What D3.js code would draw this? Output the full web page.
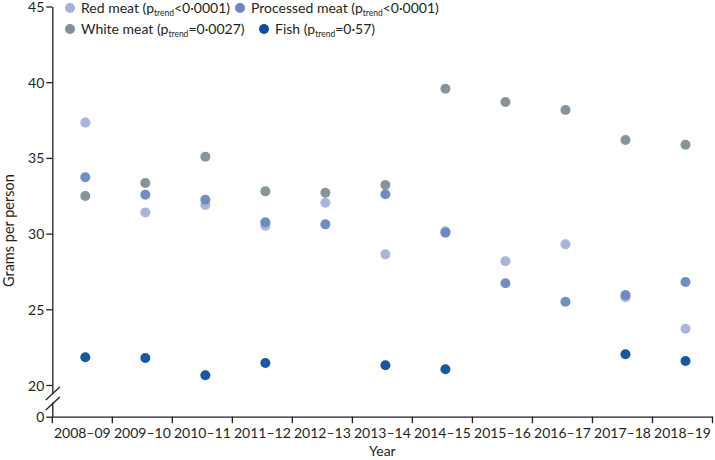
<!DOCTYPE html>
<html>
<head>
<meta charset="utf-8">
<script src="https://cdn.jsdelivr.net/npm/d3@7"></script>
<style>
  body { margin: 0; background: #fff; }
  svg text { font-family: Lato, "Open Sans", sans-serif; fill: #231f20; }
</style>
</head>
<body>
<div id="container" style="width:715px;height:460px"></div>
<script>
'use strict';

var years = ['2008–09', '2009–10', '2010–11', '2011–12', '2012–13', '2013–14', '2014–15', '2015–16', '2016–17', '2017–18', '2018–19'];
var redMeat = [37.33, 31.4, 31.89, 30.52, 32.04, 28.63, 30.15, 28.17, 29.29, 25.79, 23.72];
var processedMeat = [33.72, 32.57, 32.24, 30.75, 30.61, 32.6, 30.06, 26.72, 25.5, 25.94, 26.8];
var whiteMeat = [32.48, 33.34, 35.08, 32.79, 32.7, 33.21, 39.57, 38.69, 38.16, 36.18, 35.87];
var fish = [21.83, 21.78, 20.64, 21.45, null, 21.3, 21.04, null, null, 22.03, 21.59];
var yTicks = [0, 20, 25, 30, 35, 40, 45];

var series = [
  {name: 'Red meat', p: '<0·0001', values: redMeat, color: '#a3b1db'},
  {name: 'Processed meat', p: '<0·0001', values: processedMeat, color: '#6a86c3'},
  {name: 'White meat', p: '=0·0027', values: whiteMeat, color: '#808f96'},
  {name: 'Fish', p: '=0·57', values: fish, color: '#0a4f9f'}
];

var chart = {};
chart.margin = {top: 6.5, right: 2.5, bottom: 43.3, left: 52.3};
chart.width = 715 - chart.margin.left - chart.margin.right;
chart.height = 460 - chart.margin.top - chart.margin.bottom;

var svg = d3.select('#container').append('svg')
  .attr('width', 715)
  .attr('height', 460);

var g = svg.append('g')
  .attr('transform', 'translate(' + chart.margin.left + ',' + chart.margin.top + ')');

var x = d3.scaleBand()
  .domain(years)
  .range([0, chart.width]);

// broken axis: 0 sits just below the 20-45 segment
var y = d3.scaleLinear()
  .domain([0, 20, 45])
  .range([chart.height, chart.height - 31.7, 0]);

/* ------- AXES -------*/
var yAxis = g.append('g')
  .attr('class', 'y axis')
  .call(d3.axisLeft(y).tickValues(yTicks).tickSize(6).tickSizeOuter(0).tickFormat(d3.format('d')));

var xAxis = g.append('g')
  .attr('class', 'x axis')
  .attr('transform', 'translate(0,' + chart.height + ')')
  .call(d3.axisBottom(x).tickSize(0).tickSizeOuter(0).tickPadding(11));

g.selectAll('.axis path, .axis line').attr('stroke', '#231f20').attr('stroke-width', 1.3);
g.selectAll('.axis text').style('font-size', '14px').style('fill', '#231f20');
yAxis.selectAll('text').attr('x', -8).attr('dy', '0.36em');

// x ticks on category boundaries
xAxis.selectAll('line.boundary')
  .data(years.concat(['end']))
  .enter()
  .append('line')
  .attr('class', 'boundary')
  .attr('x1', function(d, i) { return i * x.step(); })
  .attr('x2', function(d, i) { return i * x.step(); })
  .attr('y1', 0)
  .attr('y2', 6.5)
  .attr('stroke', '#231f20')
  .attr('stroke-width', 1.3);

// axis break marks
var breakTop = y(20) + 8;
var breakBottom = y(0) - 14;
g.append('rect')
  .attr('x', -3)
  .attr('y', breakTop)
  .attr('width', 6)
  .attr('height', breakBottom - breakTop)
  .attr('fill', '#fff');
[0, 10].forEach(function(off) {
  g.append('line')
    .attr('x1', -6.5).attr('y1', breakTop + 7 + off)
    .attr('x2', 7.5).attr('y2', breakTop - 6 + off)
    .attr('stroke', '#231f20')
    .attr('stroke-width', 1.3);
});

/* ------- AXIS TITLES -------*/
svg.append('text')
  .attr('transform', 'translate(14,' + (chart.margin.top + y(30.2)) + ') rotate(-90)')
  .attr('text-anchor', 'middle')
  .style('font-size', '14.5px')
  .text('Grams per person');

svg.append('text')
  .attr('x', chart.margin.left + chart.width / 2)
  .attr('y', 456)
  .attr('text-anchor', 'middle')
  .style('font-size', '14px')
  .text('Year');

/* ------- POINTS -------*/
series.forEach(function(s) {
  g.append('g')
    .selectAll('circle')
    .data(s.values.map(function(v, i) { return {year: years[i], value: v}; })
      .filter(function(d) { return d.value !== null; }))
    .enter()
    .append('circle')
    .attr('cx', function(d) { return x(d.year) + x.bandwidth() / 2 + 3; })
    .attr('cy', function(d) { return y(d.value); })
    .attr('r', 5)
    .attr('fill', s.color)
    .attr('fill-opacity', 0.95);
});

/* ------- LEGEND -------*/
var legendPos = [[70, 8], [240, 8], [70, 29], [264, 29]];
var legend = svg.append('g').attr('class', 'legend');
series.forEach(function(s, i) {
  var item = legend.append('g')
    .attr('transform', 'translate(' + legendPos[i][0] + ',' + legendPos[i][1] + ')');
  item.append('circle')
    .attr('r', 5)
    .attr('fill', s.color);
  var t = item.append('text')
    .attr('x', 11)
    .attr('dy', '0.36em')
    .style('font-size', '14px');
  t.append('tspan').text(s.name + ' (p');
  t.append('tspan').attr('dy', 3).style('font-size', '8.5px').text('trend');
  t.append('tspan').attr('dy', -3).text(s.p + ')');
});
</script>
</body>
</html>
